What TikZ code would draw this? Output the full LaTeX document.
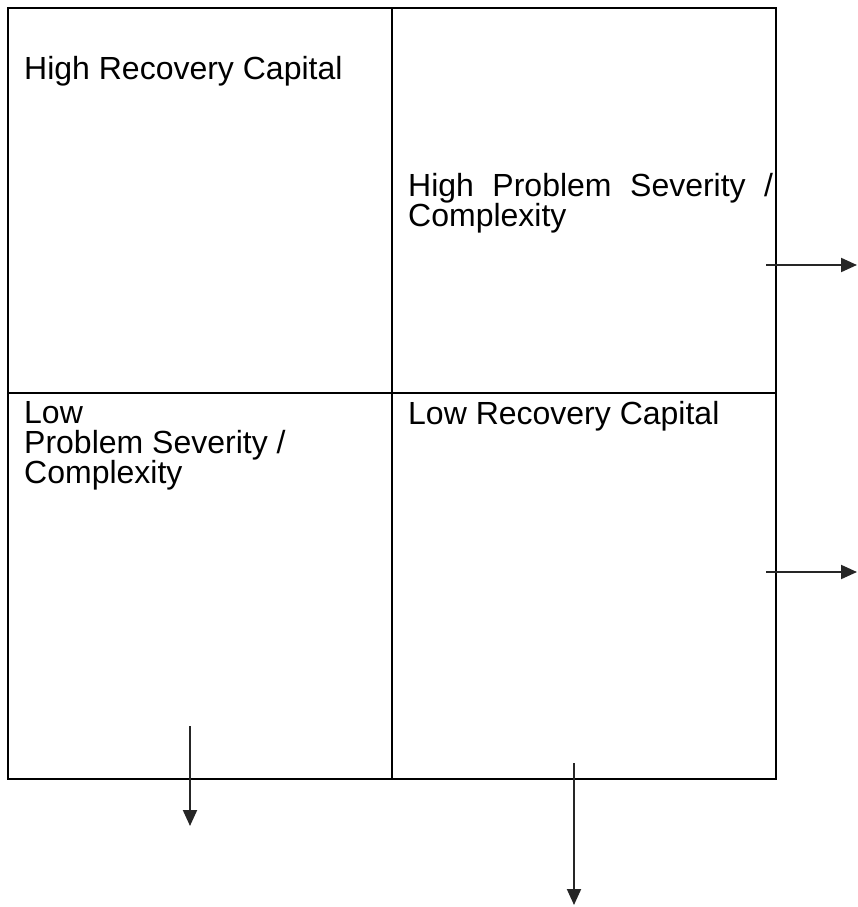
\documentclass[tikz,border=0pt]{standalone}
\usepackage{fontspec}
\setmainfont{Liberation Sans}
\usetikzlibrary{arrows.meta}
\tikzset{
  gridline/.style={line width=2.8pt, black},
  celltext/.style={anchor=north west, inner sep=0pt, align=left,
    font=\fontsize{32}{30}\selectfont},
  outarrow/.style={line width=2pt, black!85, -{Triangle[length=16pt,width=14pt]}}
}
\begin{document}
\begin{tikzpicture}[x=1pt,y=-1pt]
\useasboundingbox (0,0) rectangle (857,907);
% grid
\draw[gridline] (8,8) rectangle (776,779);
\draw[gridline] (392,8) -- (392,779);
\draw[gridline] (8,393) -- (776,393);
% texts
\node[celltext] (hrc) at (24,56) {High Recovery Capital};
\node[celltext] (hps) at (408,173) {\makebox[365pt][s]{High Problem Severity /}\\Complexity};
\node[celltext] (lps) at (24,401) {Low\\Problem Severity /\\Complexity};
\node[celltext] (lrc) at (408,401) {Low Recovery Capital};
% arrows
\coordinate (a1s) at (766,265); \coordinate (a1e) at (857,265);
\coordinate (a2s) at (766,572); \coordinate (a2e) at (857,572);
\coordinate (a3s) at (190,726); \coordinate (a3e) at (190,826);
\coordinate (a4s) at (574,763); \coordinate (a4e) at (574,905);
\draw[outarrow] (a1s) -- (a1e);
\draw[outarrow] (a2s) -- (a2e);
\draw[outarrow] (a3s) -- (a3e);
\draw[outarrow] (a4s) -- (a4e);
\end{tikzpicture}
\end{document}
